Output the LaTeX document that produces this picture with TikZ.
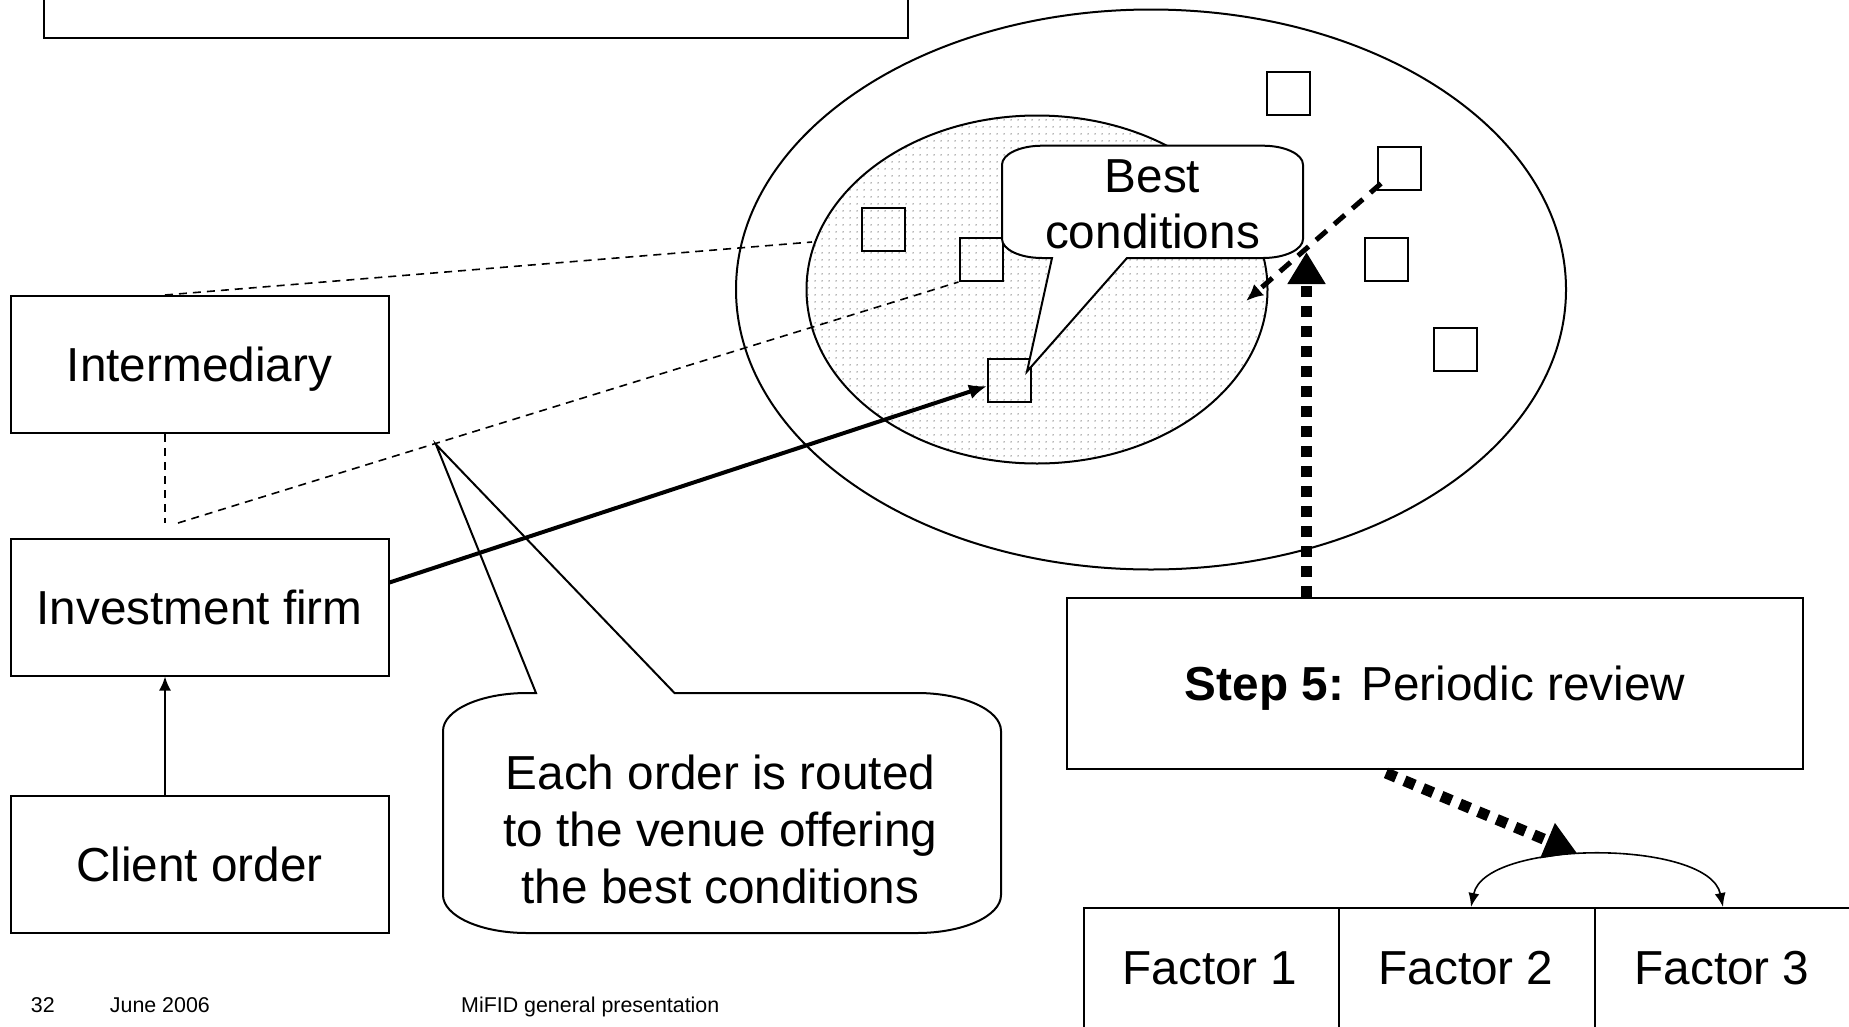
\documentclass[tikz,border=0pt]{standalone}
\usepackage{fontspec}
\setmainfont{Liberation Sans}
\usetikzlibrary{arrows.meta,patterns.meta}

% fine grey dot screen for the inner venue set
\tikzdeclarepattern{
  name=venuedots,
  type=colored,
  bottom left={(0pt,0pt)},
  top right={(7pt,7pt)},
  tile size={(7pt,7pt)},
  code={\fill[black!58] (3.5pt,3.5pt) circle (0.85pt);}
}

\newcommand\slidetext{\fontsize{47.7pt}{57pt}\selectfont}
\newcommand\foottext{\fontsize{21.4pt}{25pt}\selectfont}

\begin{document}
\begin{tikzpicture}[
  x=1pt, y=-1pt,
  plainbox/.style={draw, line width=2pt, fill=white, inner sep=0pt, font=\slidetext, align=center, text depth=0pt},
  sidebox/.style={plainbox, minimum width=378pt, minimum height=137pt},
  venue/.style={draw, line width=2pt, minimum size=43pt, inner sep=0pt},
  cellbox/.style={draw, line width=2pt, inner sep=0pt, anchor=north west, minimum height=200pt},
  bodytext/.style={font=\slidetext, align=center, inner sep=0pt},
  foot/.style={font=\foottext, anchor=base west, inner sep=0pt},
  thinlink/.style={line width=2pt},
  faintdash/.style={line width=1.6pt, dash pattern=on 8pt off 6pt},
  bolddash/.style={line width=5pt, dash pattern=on 14pt off 10pt},
  heavydots/.style={line width=11pt, dash pattern=on 11pt off 9pt},
  callout/.style={line width=2pt, fill=white}
]
\useasboundingbox (0,0) rectangle (1849,1026);
\clip (0,0) rectangle (1849,1026);

% title frame running off the top
\node[plainbox, minimum width=864pt, minimum height=137pt] (title) at (476,-31) {};

% market: all venues, and the venues giving the best conditions
\draw[line width=2pt] (1151,289.5) ellipse [x radius=415pt, y radius=280pt];
\draw[line width=2pt, pattern=venuedots] (1037,289.5) ellipse [x radius=230.5pt, y radius=174pt];

% order chain on the left
\node[sidebox] (inter)  at (199.5,364.5) {Intermediary};
\node[sidebox] (firm)   at (199.5,607)   {Investment firm};
\node[sidebox] (client) at (199.5,864)   {Client order};

% venues
\node[venue] (sq1) at (883.5,229)  {};
\node[venue] (sq2) at (981,259.5)  {};
\node[venue] (sq3) at (1009.5,380) {};
\node[venue] (sq4) at (1288,93.5)  {};
\node[venue] (sq5) at (1399.5,168) {};
\node[venue] (sq6) at (1386,259.5) {};
\node[venue] (sq7) at (1455,349.5) {};

% routes through the intermediary
\coordinate (upperEnd) at (812,242);
\coordinate (bend)     at (165,523);
\coordinate (bendR)    at (178,523);
\draw[faintdash] ([xshift=-34.5pt]inter.north) -- (upperEnd);
\draw[faintdash] ([xshift=-34.5pt]inter.south) -- (bend);
\draw[faintdash] (bendR) -- (sq2.south west);

% "Best conditions" speech bubble
\coordinate (bcPoint) at ([xshift=-5pt,yshift=-14pt]sq3.north east);
\draw[callout]
  (1042,145.7) -- (1263,145.7)
  arc[start angle=90, end angle=0, x radius=40pt, y radius=19pt]
  -- (1303,239)
  arc[start angle=0, end angle=-90, x radius=40pt, y radius=19pt]
  -- (1127,258) -- (bcPoint) -- (1052,258) -- (1042,258)
  arc[start angle=270, end angle=180, x radius=40pt, y radius=19pt]
  -- (1002,164.7)
  arc[start angle=180, end angle=90, x radius=40pt, y radius=19pt]
  -- cycle;
\node[bodytext, font=\fontsize{47.7pt}{55.5pt}\selectfont] (bctext) at (1152.5,204.5) {Best\\conditions};

% routing explanation bubble
\coordinate (eoPoint) at (436,444.5);
\draw[callout]
  (527,693) -- (536,693) -- (eoPoint) -- (674.5,693) -- (917,693)
  arc[start angle=90, end angle=0, x radius=84pt, y radius=38pt]
  -- (1001,895)
  arc[start angle=0, end angle=-90, x radius=84pt, y radius=38pt]
  -- (527,933)
  arc[start angle=270, end angle=180, x radius=84pt, y radius=38pt]
  -- (443,731)
  arc[start angle=180, end angle=90, x radius=84pt, y radius=38pt]
  -- cycle;
\node[bodytext] (eotext) at (720.5,829.5) {Each order is routed\\to the venue offering\\the best conditions};

% order flow
\draw[thinlink, -{Latex[length=14pt,width=12pt]}] ([xshift=-34.5pt]client.north) -- ([xshift=-34.5pt]firm.south);
\draw[line width=4pt, -{Latex[length=18pt,width=15pt]}] ([yshift=24.5pt]firm.east) -- ([yshift=-6pt]sq3.west);

% periodic review
\node[plainbox, minimum width=736pt, minimum height=171pt] (review) at (1435,683.5) {\textbf{Step 5:} Periodic review};

\coordinate (bcEnd) at (1246,301);
\draw[bolddash, -{Latex[length=17pt,width=15pt]}] ([xshift=4pt,yshift=7pt]sq5.south west) -- (bcEnd);

\coordinate (vTip) at (1306.5,252);
\draw[heavydots, -{Triangle[length=32pt,width=36pt]}] ([xshift=-128.5pt]review.north) -- (vTip);

\coordinate (dTip) at (1577,853);
\draw[heavydots, -{Triangle[length=32pt,width=36pt]}] ([xshift=-49pt,yshift=-3pt]review.south) -- (dTip);

% execution factors
\node[cellbox, minimum width=255.5pt] (cell1) at (1082.5,907) {};
\node[cellbox, minimum width=256pt]   (cell2) at (1338,907)   {};
\node[cellbox, minimum width=256pt]   (cell3) at (1594,907)   {};
\node[bodytext] (f1) at (1210,968) {Factor 1};
\node[bodytext] (f2) at (1466,968) {Factor 2};
\node[bodytext] (f3) at (1722,968) {Factor 3};
\draw[line width=1.6pt, {Latex[length=14pt,width=11pt]}-{Latex[length=14pt,width=11pt]}]
  ([xshift=4pt]cell2.north) .. controls +(14,-68) and +(-14,-68) .. (cell3.north);

% footer
\node[foot] (pgno)  at (30.7,1012.5) {32};
\node[foot] (date)  at (109.7,1012.5) {June 2006};
\node[foot] (slide) at (461,1012.5) {MiFID general presentation};
\end{tikzpicture}
\end{document}
